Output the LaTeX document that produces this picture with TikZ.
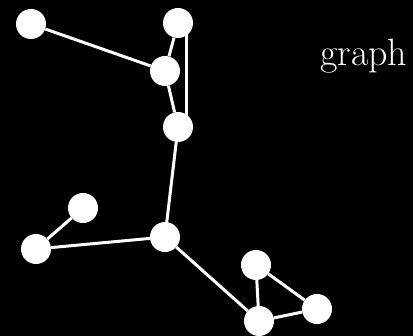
\documentclass[tikz,border=0pt]{standalone}
\usetikzlibrary{backgrounds}
\tikzstyle{vertex} = [circle, fill=white, draw=none, minimum size=30pt, inner sep=0pt]
\tikzstyle{link} = [white, line width=3pt]

\begin{document}
\begin{tikzpicture}[x=1pt, y=-1pt]
    \useasboundingbox (0,0) rectangle (413,336);

    \node (a) [vertex] at (31,24) {};
    \node (b) [vertex] at (178,23) {};
    \node (c) [vertex] at (165,71) {};
    \node (d) [vertex] at (178,127) {};
    \node (e) [vertex] at (83,208) {};
    \node (f) [vertex] at (36,249) {};
    \node (g) [vertex] at (165,237) {};
    \node (h) [vertex] at (256,265) {};
    \node (i) [vertex] at (317,309) {};
    \node (j) [vertex] at (259,321) {};

    \node (title) [anchor=base west, inner sep=0pt, white, font=\fontsize{38}{44}\selectfont] at (320,66) {graph};

    \begin{pgfonlayer}{background}
    \fill[black] (0,0) rectangle (413,336);
    \draw [link] (a) -- (c);
    \draw [link] (b) -- (c);
    \draw [link] ([xshift=8pt]b.center) -- ([xshift=8pt]d.center);
    \draw [link] (c) -- (d);
    \draw [link] (d) -- (g);
    \draw [link] (e) -- (f);
    \draw [link] (f) -- (g);
    \draw [link] (g) -- (j);
    \draw [link] (h) -- (j);
    \draw [link] (h) -- (i);
    \draw [link] (i) -- (j);
    \end{pgfonlayer}

\end{tikzpicture}
\end{document}
